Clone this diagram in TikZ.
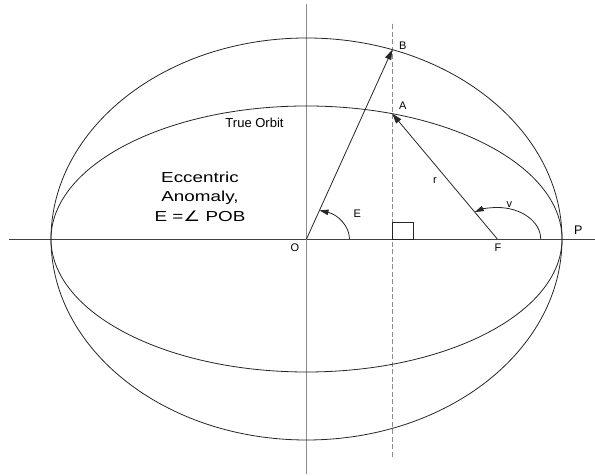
\documentclass[tikz,border=0pt]{standalone}
\usepackage{fontspec}
\setmainfont{Liberation Sans}
\newfontfamily\symbolfont{DejaVu Sans}
\usetikzlibrary{arrows.meta,calc}
\definecolor{AxisGray}{HTML}{8C8C8C}
\definecolor{AxisDark}{HTML}{404040}
\definecolor{OrbitInk}{HTML}{262626}

\begin{document}
\begin{tikzpicture}[x=1pt, y=1pt, line width=0.8pt,
  every node/.style={font=\fontsize{11}{13}\selectfont, inner sep=0pt},
  vec/.style={OrbitInk, -{Triangle[length=10pt,width=6.5pt]}},
  anglearc/.style={OrbitInk, -{Triangle[length=9pt,width=5.5pt]}}]
  \useasboundingbox (0,0) rectangle (595,476);

  \coordinate (O) at (306.5,237);
  \coordinate (F) at ($(O)+(190.8pt,0)$);
  \coordinate (B) at ($(O)+(70.38:255.5pt and 201pt)$);
  \coordinate (A) at ($(O)+(70.38:255.5pt and 133pt)$);
  \coordinate (D) at (B |- O);
  \coordinate (Dtop) at (B |- 0,454);
  \coordinate (Dbot) at (B |- 0,19);
  \coordinate (Xl) at (9,237);
  \coordinate (Xr) at (595,237);
  \coordinate (Yt) at (306.5,472);
  \coordinate (Yb) at (306.5,2);

  \draw[AxisDark] (Xl) -- (Xr);
  \draw[AxisGray, line width=1.3pt] (Yb) -- (Yt);
  \draw[AxisGray, line width=1.3pt, dash pattern=on 5pt off 2.5pt] (Dbot) -- (Dtop);

  \draw[OrbitInk] (O) ellipse [x radius=255.5pt, y radius=201pt];
  \draw[OrbitInk] (O) ellipse [x radius=255.5pt, y radius=133pt];

  \draw[vec] (O) -- (B);
  \draw[vec] (F) -- (A);
  \draw[OrbitInk, line width=0.7pt] (D) rectangle ++(21,17);

  \draw[anglearc] ($(O)+(43pt,0)$) arc [start angle=0, end angle=72.45,
    x radius=43pt, y radius=30pt];
  \draw[anglearc] ($(F)+(43.4pt,0)$) arc [start angle=0, end angle=121.3,
    x radius=43.4pt, y radius=31.5pt];

  \node (labB) at (402.7,430) {B};
  \node (labA) at (402.7,370.7) {A};
  \node (labr) at (435,295.3) {r};
  \node (labv) at (509.3,271.5) {v};
  \node (labE) at (357.3,262.7) {E};
  \node (labO) at (295,228.5) {O};
  \node (labF) at (498,228) {F};
  \node[font=\fontsize{12.5}{14}\selectfont] (labP) at (578.3,245.3) {P};
  \node[font=\fontsize{13}{15}\selectfont] (orbit) at (254.5,353.3) {True Orbit};
  \node[font=\fontsize{14.5}{19.5}\selectfont, align=center, xscale=1.3]
    (anomaly) at (200,279.5) {Eccentric\\Anomaly,\\E ={\symbolfont ∠} POB};
\end{tikzpicture}
\end{document}
